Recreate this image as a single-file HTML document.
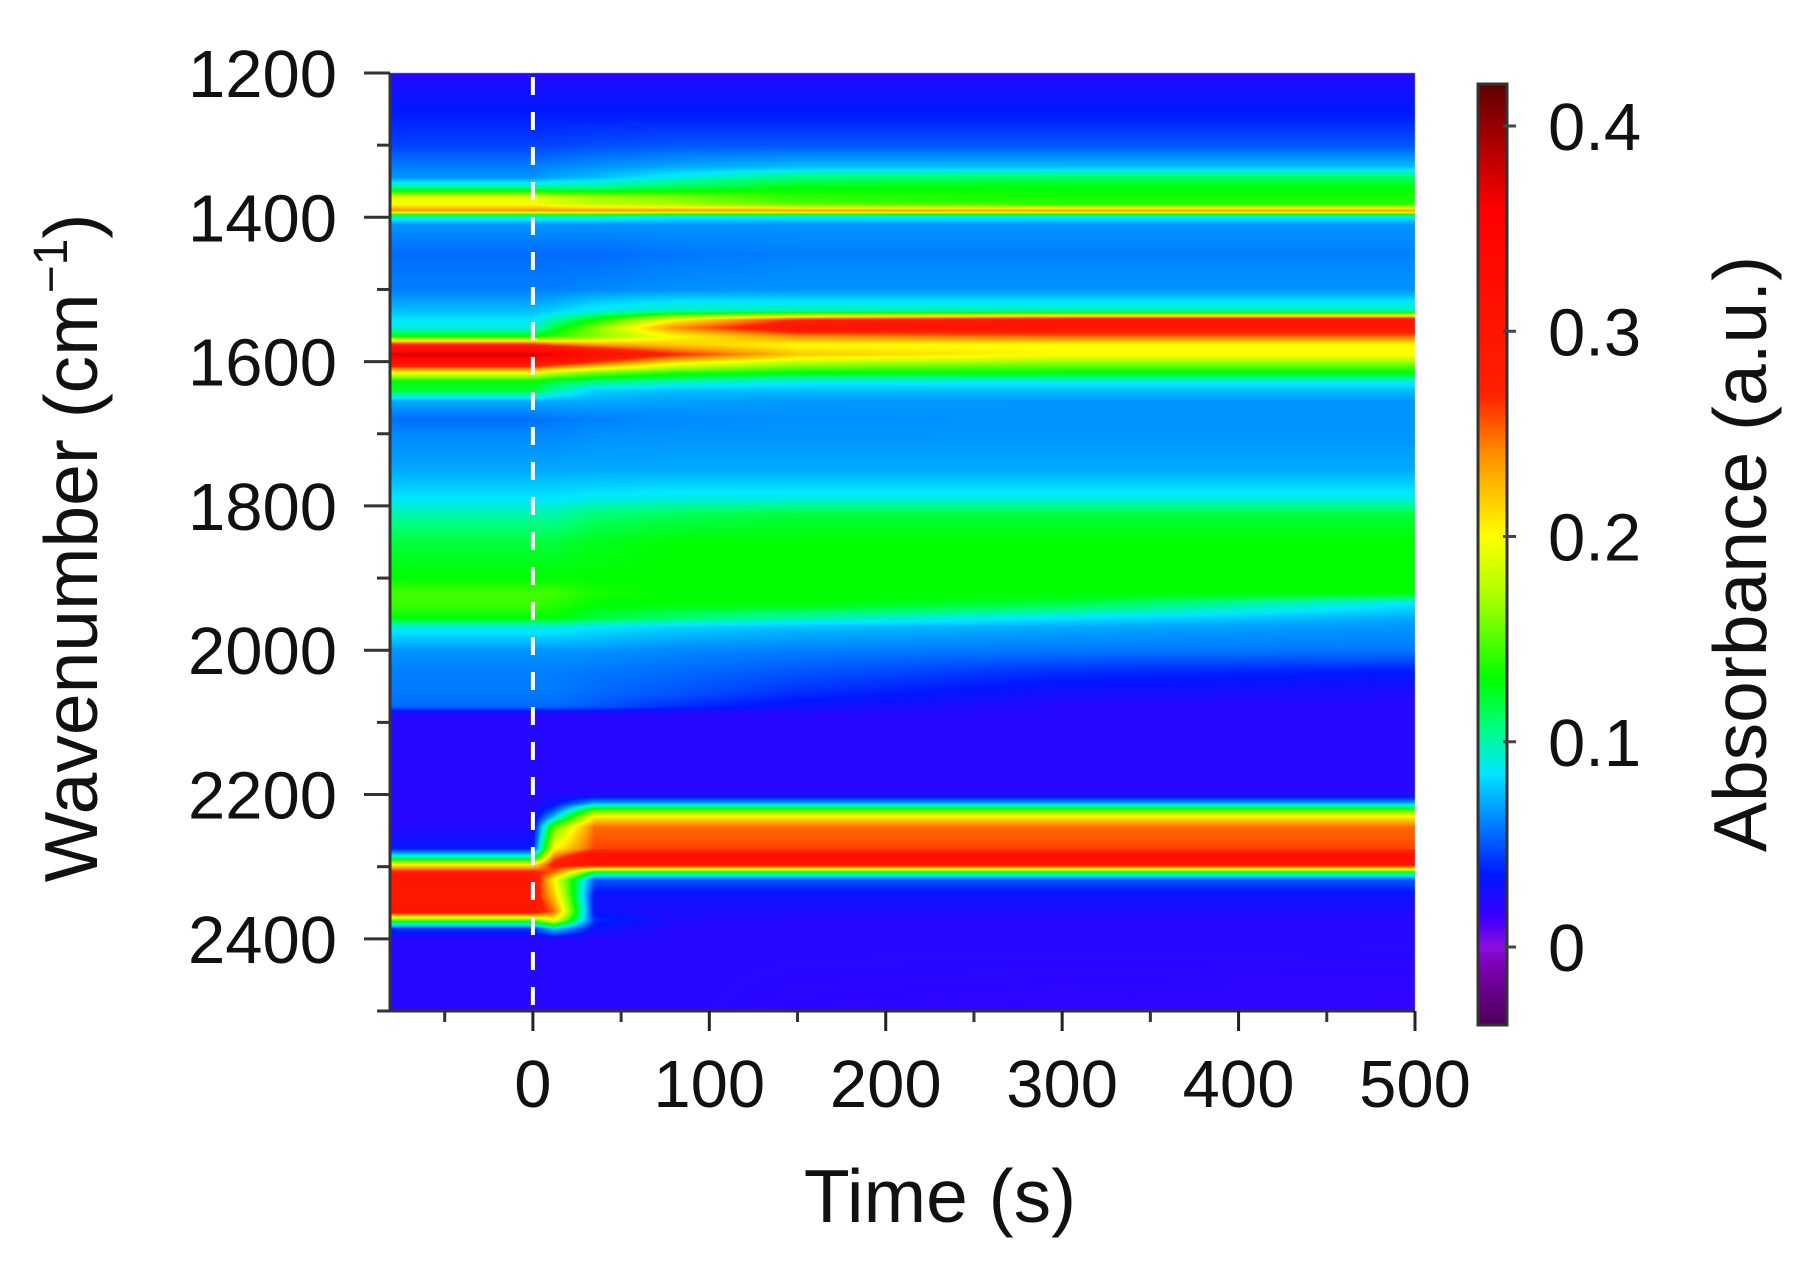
<!DOCTYPE html>
<html><head><meta charset="utf-8"><style>
html,body{margin:0;padding:0;background:#fff;}
#wrap{position:relative;width:1814px;height:1263px;overflow:hidden;background:#fff;}
canvas,svg{position:absolute;left:0;top:0;}
text{font-family:"Liberation Sans",Arial,sans-serif;fill:#111;}
</style></head><body>
<div id="wrap">
<canvas id="heat" width="1814" height="1263"></canvas>
<svg id="ov" width="1814" height="1263"></svg>
</div>
<script>
// ---- data ----
const times = [-82, 0, 12, 35, 80, 150, 300, 500];
const wavenumbers = [1200,1230,1260,1300,1330,1345,1360,1372,1382,1391,1398,1410,1450,1500,1530,1542,1553,1565,1577,1590,1603,1615,1627,1640,1655,1680,1700,1750,1790,1812,1850,1900,1920,1935,1955,1968,2000,2030,2060,2078,2088,2200,2212,2222,2232,2245,2275,2287,2297,2308,2318,2340,2362,2374,2386,2400,2500];
const absorbance = [
[.022,.022,.022,.022,.022,.022,.022,.022],
[.03,.03,.03,.03,.03,.03,.03,.03],
[.036,.036,.036,.036,.036,.036,.036,.036],
[.045,.045,.046,.048,.05,.05,.05,.05],
[.06,.06,.062,.065,.07,.075,.075,.075],
[.065,.065,.07,.075,.09,.11,.115,.115],
[.11,.11,.11,.11,.12,.13,.13,.13],
[.19,.19,.18,.17,.16,.14,.135,.135],
[.2,.2,.19,.18,.17,.15,.14,.14],
[.24,.24,.24,.24,.24,.24,.24,.24],
[.1,.1,.1,.1,.09,.09,.09,.09],
[.065,.065,.065,.065,.065,.065,.065,.065],
[.055,.055,.055,.055,.058,.06,.06,.06],
[.06,.06,.06,.062,.064,.065,.065,.065],
[.075,.075,.08,.09,.1,.1,.1,.1],
[.085,.085,.1,.13,.2,.27,.3,.3],
[.09,.09,.12,.16,.24,.3,.3,.3],
[.13,.13,.14,.16,.2,.24,.25,.25],
[.28,.28,.26,.24,.22,.2,.2,.2],
[.38,.38,.36,.32,.27,.22,.2,.2],
[.3,.3,.28,.25,.2,.17,.16,.16],
[.2,.2,.18,.16,.14,.13,.13,.13],
[.13,.13,.12,.11,.1,.09,.09,.09],
[.12,.12,.1,.08,.075,.075,.075,.075],
[.07,.07,.07,.07,.068,.066,.065,.065],
[.056,.056,.058,.06,.062,.064,.065,.065],
[.062,.062,.062,.064,.065,.065,.065,.065],
[.07,.07,.07,.07,.07,.07,.07,.07],
[.085,.085,.085,.088,.09,.09,.09,.09],
[.1,.1,.1,.11,.115,.12,.12,.12],
[.12,.12,.12,.125,.13,.13,.13,.13],
[.13,.13,.13,.13,.13,.13,.13,.13],
[.145,.145,.145,.135,.13,.13,.13,.13],
[.145,.145,.14,.13,.13,.13,.12,.085],
[.13,.13,.13,.12,.11,.1,.085,.07],
[.09,.09,.09,.085,.08,.075,.07,.065],
[.065,.065,.065,.065,.062,.06,.058,.058],
[.06,.06,.06,.058,.055,.05,.04,.035],
[.058,.058,.058,.055,.05,.04,.028,.025],
[.055,.055,.055,.05,.04,.03,.022,.022],
[.022,.022,.022,.022,.022,.022,.022,.022],
[.022,.022,.022,.022,.022,.022,.022,.022],
[.022,.022,.03,.07,.07,.07,.07,.07],
[.022,.022,.05,.15,.15,.15,.15,.15],
[.022,.022,.08,.21,.21,.21,.21,.21],
[.022,.022,.15,.25,.25,.25,.25,.25],
[.035,.035,.2,.26,.26,.26,.26,.26],
[.1,.1,.25,.32,.32,.32,.32,.32],
[.2,.2,.28,.3,.3,.3,.3,.3],
[.28,.28,.25,.12,.12,.12,.12,.12],
[.3,.3,.2,.05,.05,.05,.05,.05],
[.29,.29,.22,.03,.03,.03,.03,.03],
[.3,.3,.25,.03,.025,.025,.025,.025],
[.15,.15,.2,.04,.025,.022,.022,.022],
[.04,.04,.08,.03,.022,.022,.022,.022],
[.022,.022,.022,.022,.022,.022,.022,.022],
[.022,.022,.022,.022,.022,.02,.019,.018]
];
const xTicks = [0,100,200,300,400,500];
const xMinor = [-50,50,150,250,350,450];
const yTicks = [1200,1400,1600,1800,2000,2200,2400];
const yMinor = [1300,1500,1700,1900,2100,2300,2500];
const cbTicks = [0,0.1,0.2,0.3,0.4];
const cbTickLabels = ["0","0.1","0.2","0.3","0.4"];
const cmapVals = [-0.04,-0.01,0.0,0.015,0.035,0.06,0.085,0.11,0.13,0.17,0.2,0.24,0.27,0.36,0.42];
const cmapCols = ["#4a0050","#7a00b0","#8a10e0","#3a00ff","#0018ff","#0080ff","#00e8ff","#00ff70","#00ff00","#a8ff00","#ffff00","#ff9000","#ff2000","#ff0000","#600000"];

// ---- geometry ----
const PL=390, PR=1415, PT=73, PB=1011;
const T0=-81, T1=500, W0=1200, W1=2500;
const xs = t => PL + (t - T0) / (T1 - T0) * (PR - PL);
const ys = w => PT + (w - W0) / (W1 - W0) * (PB - PT);
const CBL=1478, CBR=1507, CBT=84, CBB=1025;
const cbS = v => 947 - v * 2052.5;

function hex(c){return [parseInt(c.substr(1,2),16),parseInt(c.substr(3,2),16),parseInt(c.substr(5,2),16)];}
const cmapRGB = cmapCols.map(hex);
function cmap(v){
  if(v<=cmapVals[0]) return cmapRGB[0];
  for(let i=1;i<cmapVals.length;i++){
    if(v<=cmapVals[i]){const f=(v-cmapVals[i-1])/(cmapVals[i]-cmapVals[i-1]);const a=cmapRGB[i-1],b=cmapRGB[i];
      return [a[0]+(b[0]-a[0])*f,a[1]+(b[1]-a[1])*f,a[2]+(b[2]-a[2])*f];}
  }
  return cmapRGB[cmapRGB.length-1];
}
function seg(arr,v){let i=0;while(i<arr.length-2&&v>arr[i+1])i++;let f=(v-arr[i])/(arr[i+1]-arr[i]);f=Math.max(0,Math.min(1,f));return [i,f];}

const cv=document.getElementById('heat');const ctx=cv.getContext('2d');
const w=PR-PL,h=PB-PT;const img=ctx.createImageData(w,h);
const colIdx=[];for(let px=0;px<w;px++){const t=T0+(px+0.5)/w*(T1-T0);colIdx.push(seg(times,t));}
for(let py=0;py<h;py++){
  const wn=W0+(py+0.5)/h*(W1-W0);const [ri,rf]=seg(wavenumbers,wn);
  const r0=absorbance[ri],r1=absorbance[ri+1];
  for(let px=0;px<w;px++){
    const [ci,cf]=colIdx[px];
    const a=r0[ci]+(r0[ci+1]-r0[ci])*cf, b=r1[ci]+(r1[ci+1]-r1[ci])*cf;
    const c=cmap(a+(b-a)*rf);const k=(py*w+px)*4;
    img.data[k]=c[0];img.data[k+1]=c[1];img.data[k+2]=c[2];img.data[k+3]=255;
  }
}
ctx.putImageData(img,PL,PT);
for(let y=CBT;y<CBB;y++){const v=(947-(y+0.5))/2052.5;const c=cmap(v);
  ctx.fillStyle=`rgb(${c[0]|0},${c[1]|0},${c[2]|0})`;ctx.fillRect(CBL,y,CBR-CBL,1);}

// ---- overlay ----
const NS='http://www.w3.org/2000/svg';const svg=document.getElementById('ov');
function el(tag,attrs,txt){const e=document.createElementNS(NS,tag);for(const k in attrs)e.setAttribute(k,attrs[k]);if(txt!==undefined)e.textContent=txt;svg.appendChild(e);return e;}
let e;
e=el('line',{x1:xs(0),x2:xs(0),y1:PT+4,y2:PB-4,stroke:'#fff','stroke-width':4,'stroke-dasharray':'18 17'});


e=el('path',{d:`M${PL} ${PT} V${PB} H${PR}`,fill:'none',stroke:'#333','stroke-width':3});


xTicks.forEach(t=>{
  e=el('line',{x1:xs(t),x2:xs(t),y1:PB,y2:PB+20,stroke:'#222','stroke-width':3});
  
  
  e=el('text',{x:xs(t),y:1107,'font-size':67,'text-anchor':'middle'},String(t));
  
  
});
xMinor.forEach(t=>{
  e=el('line',{x1:xs(t),x2:xs(t),y1:PB,y2:PB+11,stroke:'#333','stroke-width':3});
  
  
});
yTicks.forEach(v=>{
  e=el('line',{x1:PL-26,x2:PL,y1:ys(v),y2:ys(v),stroke:'#333','stroke-width':3});
  
  
  e=el('text',{x:337,y:ys(v)+24,'font-size':67,'text-anchor':'end'},String(v));
  
  
});
yMinor.forEach(v=>{
  e=el('line',{x1:PL-13,x2:PL,y1:ys(v),y2:ys(v),stroke:'#333','stroke-width':3});
  
  
});
e=el('text',{x:940,y:1222,'font-size':75,'text-anchor':'middle'},'Time (s)');


const yt=el('text',{x:0,y:0,'font-size':75,'text-anchor':'middle',transform:'translate(97,548) rotate(-90)'});


yt.innerHTML='Wavenumber (cm<tspan font-size="48" dy="-30">−1</tspan><tspan dy="30">)</tspan>';
e=el('rect',{x:CBL,y:CBT,width:CBR-CBL,height:CBB-CBT,fill:'none',stroke:'#333','stroke-width':3});


cbTicks.forEach((v,i)=>{
  e=el('line',{x1:CBR-4,x2:CBR+9,y1:cbS(v),y2:cbS(v),stroke:'#444','stroke-width':3});
  
  
  e=el('text',{x:1548,y:cbS(v)+24,'font-size':67},cbTickLabels[i]);
  
  
});
e=el('text',{x:0,y:0,'font-size':75,'text-anchor':'middle',transform:'translate(1766,554) rotate(-90)'},'Absorbance (a.u.)');


</script>
</body></html>
